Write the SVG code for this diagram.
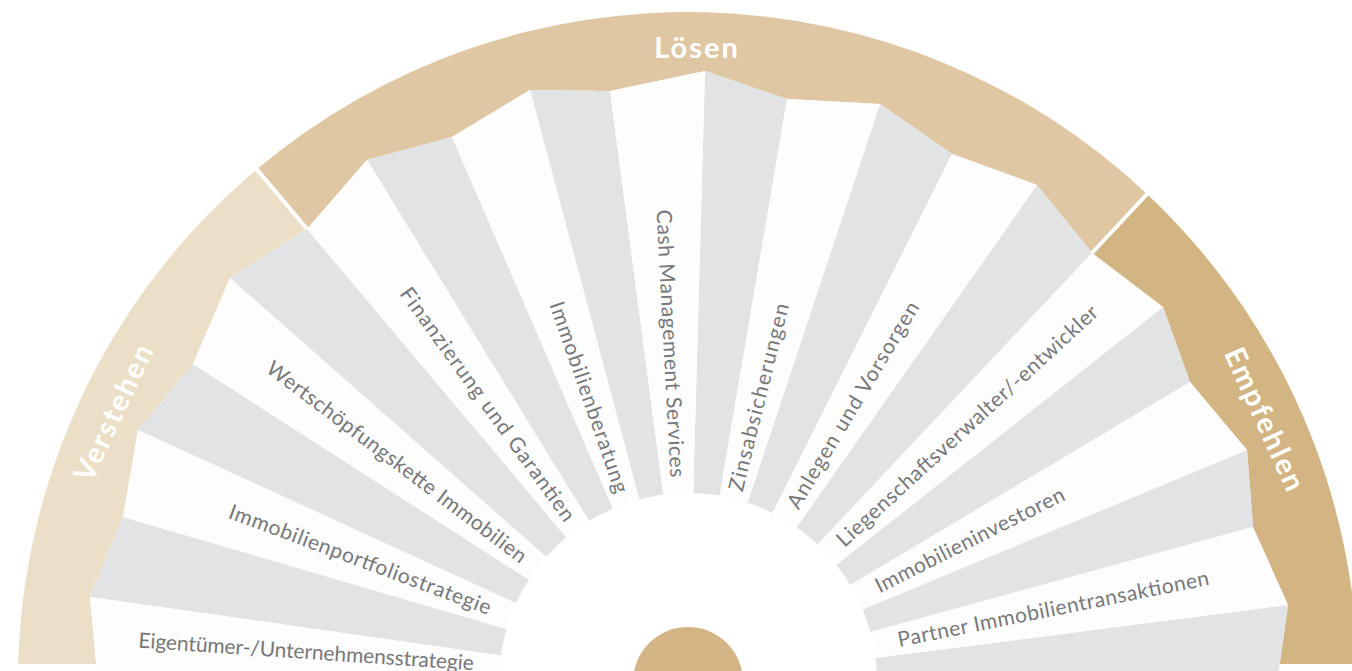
<svg xmlns="http://www.w3.org/2000/svg" width="1352" height="671" viewBox="0 0 1352 671">
  <defs>
    <clipPath id="bandClip"><rect x="0" y="0" width="1352" height="664"/></clipPath>
    <style>
      .lbl { font-family: Lato, "Liberation Sans", sans-serif; font-size: 21px; fill: #77787a; }
      .band { font-family: Lato, "Liberation Sans", sans-serif; font-size: 29px; font-weight: 700; fill: #ffffff; letter-spacing: 2px; }
      .w { fill: #fdfdfd; }
      .g { fill: #e2e3e5; }
    </style>
  </defs>
  <rect width="1352" height="671" fill="#ffffff"/>

  <g id="bands" clip-path="url(#bandClip)">
    <g id="band-verstehen">
      <path d="M688,682 L256.5,169.5 A670,670 0 0 0 20.5,740 Z" fill="#ebdfc7"/>
      <text class="band" text-anchor="middle" transform="translate(114,412) rotate(-64.8)" y="10">Verstehen</text>
    </g>
    <g id="band-loesen">
      <path d="M688,682 L256.5,169.5 A670,670 0 0 1 1147,194 Z" fill="#dfc7a4"/>
      <text class="band" text-anchor="middle" x="697" y="58">Lösen</text>
    </g>
    <g id="band-empfehlen">
      <path d="M688,682 L1147,194 A670,670 0 0 1 1355.5,740 Z" fill="#d3b584"/>
      <text class="band" text-anchor="middle" transform="translate(1265,420) rotate(65.6)" y="10">Empfehlen</text>
    </g>
  </g>

  <g id="fan-base">
    <polygon class="w" points="688,682 1276,690 1288,605 1253,527 1247,450 1190,382 1163,307 1092,253 1037,185 952,154 880,104 787,99 705,71 610,91 530,90 452,137 367,160 307,229 230,278 193,364 138,430 123,517 90,597 98,685"/>
  </g>

  <g id="folds">
    <polygon class="g" points="688,682 1276,690 1288,605"/>
    <polygon class="g" points="688,682 1253,527 1247,450"/>
    <polygon class="g" points="688,682 1190,382 1163,307"/>
    <polygon class="g" points="688,682 1092,253 1037,185"/>
    <polygon class="g" points="688,682 952,154 880,104"/>
    <polygon class="g" points="688,682 787,99 705,71"/>
    <polygon class="g" points="688,682 610,91 530,90"/>
    <polygon class="g" points="688,682 452,137 367,160"/>
    <polygon class="g" points="688,682 307,229 230,278"/>
    <polygon class="g" points="688,682 193,364 138,430"/>
    <polygon class="g" points="688,682 123,517 90,597"/>
  </g>

  <g id="dividers" stroke="#ffffff" stroke-width="4" fill="none">
    <line x1="307" y1="229" x2="255" y2="167"/>
    <line x1="1092" y1="253" x2="1149" y2="192"/>
  </g>

  <g id="node-eigentuemer">
    <polygon class="w" points="688,682 90,597 98,685"/>
    <text class="lbl" text-anchor="end" transform="translate(688,682) rotate(3.9)" x="-215" y="3" textLength="336" lengthAdjust="spacing">Eigentümer-/Unternehmensstrategie</text>
  </g>
  <g id="node-portfolio">
    <polygon class="w" points="688,682 138,430 123,517"/>
    <text class="lbl" text-anchor="end" transform="translate(688,682) rotate(20.45)" x="-211" y="7" textLength="278" lengthAdjust="spacing">Immobilienportfoliostrategie</text>
  </g>
  <g id="node-wertschoepfung">
    <polygon class="w" points="688,682 230,278 193,364"/>
    <text class="lbl" text-anchor="end" transform="translate(688,682) rotate(37.06)" x="-205" y="7" textLength="320" lengthAdjust="spacing">Wertschöpfungskette Immobilien</text>
  </g>
  <g id="node-finanzierung">
    <polygon class="w" points="688,682 367,160 307,229"/>
    <text class="lbl" text-anchor="end" transform="translate(688,682) rotate(54.17)" x="-201" y="7" textLength="283" lengthAdjust="spacing">Finanzierung und Garantien</text>
  </g>
  <g id="node-beratung">
    <polygon class="w" points="688,682 530,90 452,137"/>
    <text class="lbl" text-anchor="end" transform="translate(688,682) rotate(70.82)" x="-201" y="7" textLength="201" lengthAdjust="spacing">Immobilienberatung</text>
  </g>
  <g id="node-cash">
    <polygon class="w" points="688,682 705,71 610,91"/>
    <text class="lbl" text-anchor="end" transform="translate(688,682) rotate(87.03)" x="-205" y="7" textLength="268" lengthAdjust="spacing">Cash Management Services</text>
  </g>
  <g id="node-zins">
    <polygon class="w" points="688,682 880,104 787,99"/>
    <text class="lbl" text-anchor="start" transform="translate(688,682) rotate(-76)" x="197" y="7" textLength="193" lengthAdjust="spacing">Zinsabsicherungen</text>
  </g>
  <g id="node-anlegen">
    <polygon class="w" points="688,682 1037,185 952,154"/>
    <text class="lbl" text-anchor="start" transform="translate(688,682) rotate(-59.18)" x="204" y="7" textLength="237" lengthAdjust="spacing">Anlegen und Vorsorgen</text>
  </g>
  <g id="node-liegenschaft">
    <polygon class="w" points="688,682 1163,307 1092,253"/>
    <text class="lbl" text-anchor="start" transform="translate(688,682) rotate(-42.5)" x="206" y="7" textLength="346" lengthAdjust="spacing">Liegenschaftsverwalter/-entwickler</text>
  </g>
  <g id="node-investoren">
    <polygon class="w" points="688,682 1247,450 1190,382"/>
    <text class="lbl" text-anchor="start" transform="translate(688,682) rotate(-26.7)" x="211" y="7" textLength="209" lengthAdjust="spacing">Immobilieninvestoren</text>
  </g>
  <g id="node-partner">
    <polygon class="w" points="688,682 1288,605 1253,527"/>
    <text class="lbl" text-anchor="start" transform="translate(688,682) rotate(-11.3)" x="214" y="7" textLength="317" lengthAdjust="spacing">Partner Immobilientransaktionen</text>
  </g>

  <g id="hub">
    <circle cx="688" cy="682" r="189" fill="#ffffff"/>
    <circle cx="688" cy="682" r="55" fill="#d3b585"/>
  </g>
</svg>
